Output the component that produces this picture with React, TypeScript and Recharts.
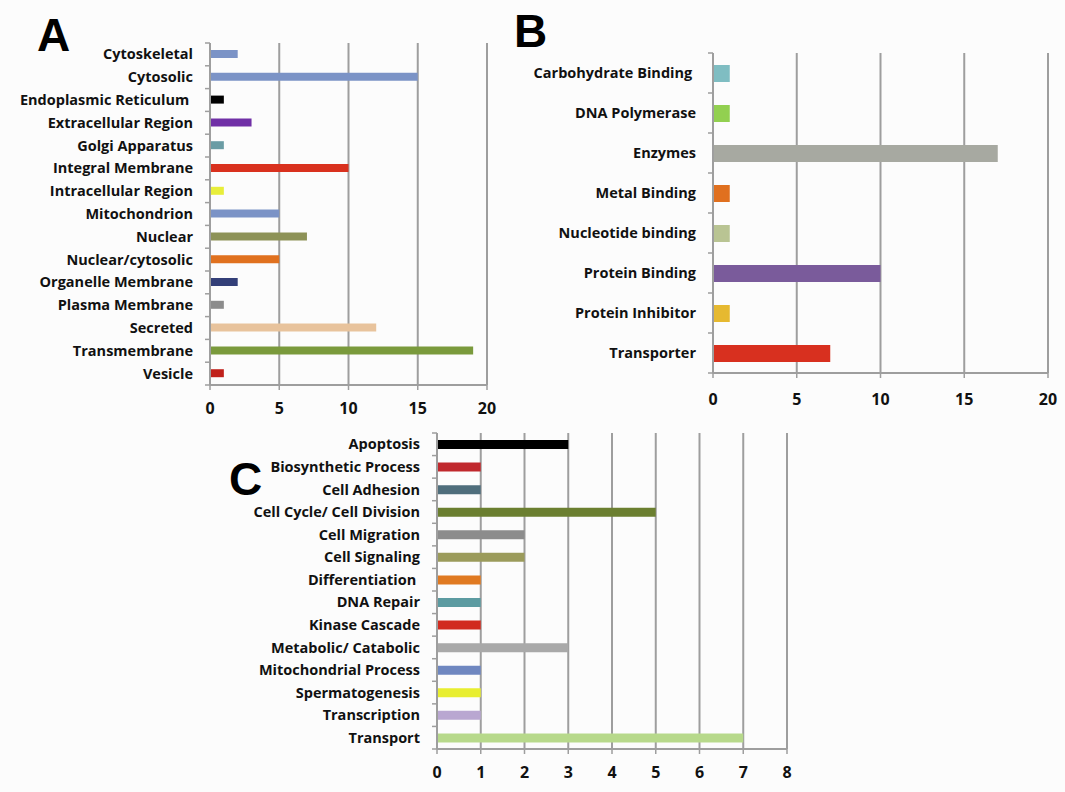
import React from 'react';
import { BarChart, Bar, XAxis, YAxis, CartesianGrid, Cell } from 'recharts';

// Panel A - cellular location
const categoriesA = [
  'Cytoskeletal', 'Cytosolic', 'Endoplasmic Reticulum ', 'Extracellular Region', 'Golgi Apparatus',
  'Integral Membrane', 'Intracellular Region', 'Mitochondrion', 'Nuclear', 'Nuclear/cytosolic',
  'Organelle Membrane', 'Plasma Membrane', 'Secreted', 'Transmembrane', 'Vesicle',
];
const valuesA = [2, 15, 1, 3, 1, 10, 1, 5, 7, 5, 2, 1, 12, 19, 1];
const colorsA = [
  '#7b93c6', '#7b93c6', '#000000', '#7030a6', '#6a9ca4', '#d9311e', '#e8ee3a', '#7b93c6',
  '#8d9257', '#e0711f', '#333f78', '#8c8c8c', '#e8c39c', '#7a9a3c', '#c0221c',
];
const ticksA = [0, 5, 10, 15, 20];

// Panel B - molecular function
const categoriesB = [
  'Carbohydrate Binding ', 'DNA Polymerase', 'Enzymes', 'Metal Binding', 'Nucleotide binding',
  'Protein Binding', 'Protein Inhibitor', 'Transporter',
];
const valuesB = [1, 1, 17, 1, 1, 10, 1, 7];
const colorsB = ['#7fbdc2', '#92d050', '#a7a9a1', '#e0701f', '#b9c493', '#7a5b9b', '#e6b930', '#d8301f'];
const ticksB = [0, 5, 10, 15, 20];

// Panel C - biological process
const categoriesC = [
  'Apoptosis', 'Biosynthetic Process', 'Cell Adhesion', 'Cell Cycle/ Cell Division', 'Cell Migration',
  'Cell Signaling', 'Differentiation ', 'DNA Repair', 'Kinase Cascade', 'Metabolic/ Catabolic',
  'Mitochondrial Process', 'Spermatogenesis', 'Transcription', 'Transport',
];
const valuesC = [3, 1, 1, 5, 2, 2, 1, 1, 1, 3, 1, 1, 1, 7];
const colorsC = [
  '#000000', '#c0282d', '#4f6e7c', '#6b7f30', '#8c8c8c', '#9b9b5b', '#e07a22', '#5c9ba1',
  '#d12b1f', '#a9a9a9', '#6f87c0', '#e8ee30', '#b9a7d1', '#b7d98b',
];
const ticksC = [0, 1, 2, 3, 4, 5, 6, 7, 8];

const GRID = '#9e9e9e';
const FONT = '"Open Sans", "Liberation Sans", Arial, sans-serif';
const X_HEIGHT = 40;
const LABEL_GAP = 17;

function CategoryTick(props: any) {
  const { x, y, payload, index, band, count } = props;
  const axisX = x + LABEL_GAP;
  return (
    <g>
      <line x1={axisX - 5} x2={axisX} y1={y - band / 2} y2={y - band / 2} stroke={GRID} strokeWidth={1.5} />
      {index === count - 1 && (
        <line x1={axisX - 5} x2={axisX} y1={y + band / 2} y2={y + band / 2} stroke={GRID} strokeWidth={1.5} />
      )}
      <text
        x={x}
        y={y}
        dy="0.35em"
        textAnchor="end"
        fill="#111"
        fontSize={14.5}
        fontWeight={700}
        fontFamily={FONT}
        style={{ whiteSpace: 'pre' }}
      >
        {payload.value}
      </text>
    </g>
  );
}

interface PanelProps {
  names: string[];
  values: number[];
  colors: string[];
  ticks: number[];
  left: number;
  top: number;
  width: number;
  height: number;
  margin: { top: number; right: number; bottom: number; left: number };
  yWidth: number;
  barSize: number;
  xTickMargin: number;
}

function Panel({ names, values, colors, ticks, left, top, width, height, margin, yWidth, barSize, xTickMargin }: PanelProps) {
  const data = names.map((name, i) => ({ name, value: values[i], color: colors[i] }));
  const band = (height - margin.top - margin.bottom - X_HEIGHT) / data.length;
  return (
    <div style={{ position: 'absolute', left, top }}>
      <BarChart width={width} height={height} data={data} layout="vertical" margin={margin}>
        <CartesianGrid horizontal={false} stroke={GRID} strokeWidth={2} />
        <XAxis
          type="number"
          domain={[0, ticks[ticks.length - 1]]}
          ticks={ticks}
          interval={0}
          height={X_HEIGHT}
          axisLine={{ stroke: GRID, strokeWidth: 2 }}
          tickLine={{ stroke: GRID, strokeWidth: 1.5 }}
          tickSize={5}
          tickMargin={xTickMargin}
          tick={{ fill: '#111', fontSize: 16, fontWeight: 700, fontFamily: FONT }}
        />
        <YAxis
          type="category"
          dataKey="name"
          width={yWidth}
          interval={0}
          axisLine={{ stroke: GRID, strokeWidth: 2 }}
          tickLine={false}
          tickSize={0}
          tickMargin={LABEL_GAP}
          tick={(p: any) => <CategoryTick {...p} band={band} count={data.length} />}
        />
        <Bar dataKey="value" barSize={barSize} isAnimationActive={false}>
          {data.map((d, i) => (
            <Cell key={i} fill={d.color} />
          ))}
        </Bar>
      </BarChart>
    </div>
  );
}

const letterStyle: React.CSSProperties = {
  position: 'absolute',
  fontFamily: '"Liberation Sans", Arial, sans-serif',
  fontWeight: 700,
  fontSize: 46,
  lineHeight: 1,
  color: '#000',
};

export default function App() {
  return (
    <div style={{ position: 'absolute', left: 0, top: 0, width: 1065, height: 792, background: '#fcfcfc', overflow: 'hidden' }}>
      <div style={{ ...letterStyle, left: 37, top: 12 }}>A</div>
      <div style={{ ...letterStyle, left: 514, top: 8 }}>B</div>
      <div style={{ ...letterStyle, left: 229, top: 456 }}>C</div>

      <Panel
        names={categoriesA}
        values={valuesA}
        colors={colorsA}
        ticks={ticksA}
        left={0}
        top={0}
        width={520}
        height={430}
        margin={{ top: 43, right: 33, bottom: 5, left: 0 }}
        yWidth={210}
        barSize={8}
        xTickMargin={13}
      />
      <Panel
        names={categoriesB}
        values={valuesB}
        colors={colorsB}
        ticks={ticksB}
        left={500}
        top={0}
        width={565}
        height={430}
        margin={{ top: 53, right: 17, bottom: 17, left: 0 }}
        yWidth={213}
        barSize={17}
        xTickMargin={16}
      />
      <Panel
        names={categoriesC}
        values={valuesC}
        colors={colorsC}
        ticks={ticksC}
        left={220}
        top={420}
        width={600}
        height={372}
        margin={{ top: 13, right: 33, bottom: 3, left: 0 }}
        yWidth={217}
        barSize={9}
        xTickMargin={13}
      />
    </div>
  );
}
